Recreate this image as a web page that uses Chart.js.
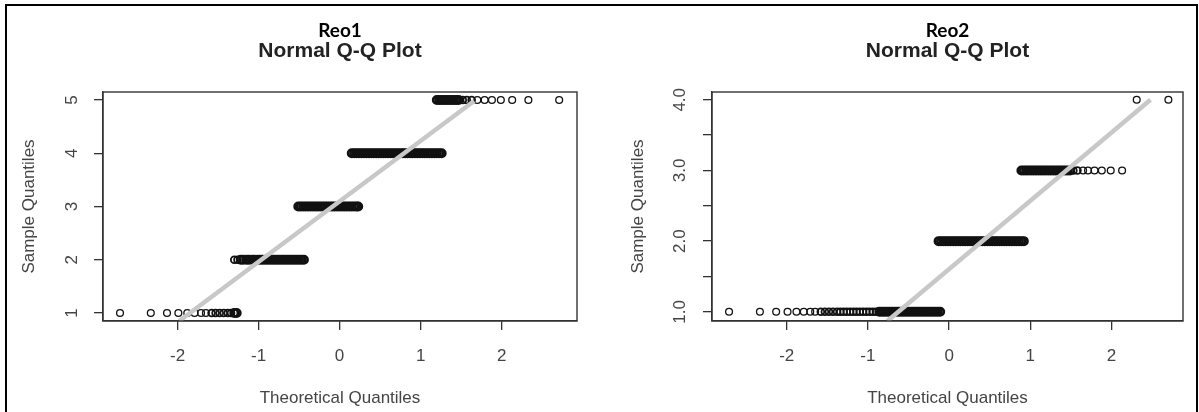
<!DOCTYPE html>
<html lang="en">
<head>
    <meta charset="UTF-8">
    <title>Reo1 / Reo2 - Normal Q-Q Plot</title>
    <script src="https://cdn.jsdelivr.net/npm/chart.js"></script>
    <style>
        body { margin: 0; background: #fff; }
        #frame { position: absolute; left: 5px; top: 4px; width: 1189px; height: 430px;
                 border: 2.5px solid #000; border-bottom: none; pointer-events: none; }
        .panel { position: absolute; top: 0; }
    </style>
</head>
<body>

<div class="panel" style="left:0px"><canvas id="reo1Chart" width="600" height="412"></canvas></div>
<div class="panel" style="left:600px"><canvas id="reo2Chart" width="599" height="412"></canvas></div>
<div id="frame"></div>

<script>
// --- Reo1: theoretical quantile of every point, grouped by its sample value ---
const reo1Levels = [1, 2, 3, 4, 5];
const reo1Ones = [-2.71, -2.33, -2.13, -1.99, -1.88, -1.79, -1.71, -1.65, -1.58, -1.53, -1.48, -1.43, -1.38, -1.34, -1.30, -1.27];
const reo1Twos = [-1.30, -1.26, -1.22, -1.19, -1.15, -1.12, -1.08, -1.05, -1.01, -0.98, -0.95, -0.92, -0.89, -0.86, -0.83, -0.80, -0.77, -0.74, -0.71, -0.68, -0.65, -0.62, -0.59, -0.56, -0.53, -0.50, -0.47, -0.44];
const reo1Threes = [-0.51, -0.48, -0.45, -0.42, -0.39, -0.36, -0.33, -0.30, -0.27, -0.24, -0.21, -0.18, -0.15, -0.12, -0.09, -0.06, -0.03, 0.00, 0.03, 0.06, 0.09, 0.12, 0.15, 0.18, 0.21, 0.23];
const reo1Fours = [0.15, 0.18, 0.21, 0.24, 0.27, 0.30, 0.33, 0.36, 0.39, 0.42, 0.45, 0.48, 0.51, 0.54, 0.57, 0.60, 0.63, 0.66, 0.69, 0.72, 0.75, 0.78, 0.81, 0.84, 0.87, 0.90, 0.93, 0.96, 0.99, 1.02, 1.05, 1.08, 1.11, 1.14, 1.17, 1.20, 1.23, 1.26];
const reo1Fives = [1.20, 1.23, 1.26, 1.29, 1.32, 1.35, 1.38, 1.41, 1.44, 1.47, 1.52, 1.57, 1.63, 1.70, 1.79, 1.88, 1.99, 2.13, 2.33, 2.71];
const reo1LineX = [-1.98, 1.66];
const reo1LineY = [0.85, 4.98];
const reo1XTicks = [-2, -1, 0, 1, 2];
const reo1YTicks = [1, 2, 3, 4, 5];
const reo1YLabels = ['1', '2', '3', '4', '5'];

// --- Reo2 ---
const reo2Levels = [1, 2, 3, 4];
const reo2Ones = [-2.71, -2.33, -2.13, -1.99, -1.88, -1.79, -1.71, -1.65, -1.58, -1.53, -1.48, -1.43, -1.38, -1.34, -1.30, -1.26, -1.22, -1.18, -1.14, -1.10, -1.06, -1.02, -0.98, -0.94, -0.90, -0.86, -0.83, -0.80, -0.77, -0.74, -0.71, -0.68, -0.65, -0.62, -0.59, -0.56, -0.53, -0.50, -0.47, -0.44, -0.41, -0.38, -0.35, -0.32, -0.29, -0.26, -0.23, -0.20, -0.17, -0.14, -0.11];
const reo2Twos = [-0.13, -0.10, -0.07, -0.04, -0.01, 0.02, 0.05, 0.08, 0.11, 0.14, 0.17, 0.20, 0.23, 0.26, 0.29, 0.32, 0.35, 0.38, 0.41, 0.44, 0.47, 0.50, 0.53, 0.56, 0.59, 0.62, 0.65, 0.68, 0.71, 0.74, 0.77, 0.80, 0.83, 0.86, 0.89, 0.92];
const reo2Threes = [0.89, 0.92, 0.95, 0.98, 1.01, 1.04, 1.07, 1.10, 1.13, 1.16, 1.19, 1.22, 1.25, 1.28, 1.31, 1.34, 1.37, 1.40, 1.43, 1.46, 1.49, 1.53, 1.58, 1.65, 1.71, 1.79, 1.88, 1.99, 2.13];
const reo2Fours = [2.31, 2.70];
const reo2LineX = [-0.76, 2.48];
const reo2LineY = [0.87, 4.0];
const reo2XTicks = [-2, -1, 0, 1, 2];
const reo2YTicks = [1, 1.5, 2, 2.5, 3, 3.5, 4];
const reo2YLabels = ['1.0', '', '2.0', '', '3.0', '', '4.0'];

const axisColor = '#333';
const textColor = '#444';
const sans = 'Liberation Sans, Arial, sans-serif';

// box round the plotting region, like R's box()
const plotBox = {
    id: 'plotBox',
    afterDatasetsDraw(chart) {
        const a = chart.chartArea;
        const ctx = chart.ctx;
        ctx.save();
        ctx.strokeStyle = axisColor;
        ctx.lineWidth = 1.4;
        ctx.strokeRect(a.left, a.top, a.right - a.left, a.bottom - a.top);
        ctx.restore();
    }
};

function makeQQ(canvasId, p) {
    const points = [];
    p.levels.forEach((lvl, i) => {
        const xs = p.theoretical[i];
        xs.forEach((x, j) => {
            // distance to the nearest neighbour: overlapping circles are drawn heavier
            const gaps = [];
            if (j > 0) gaps.push(x - xs[j - 1]);
            if (j < xs.length - 1) gaps.push(xs[j + 1] - x);
            points.push({ x: x, y: lvl, gap: Math.min(...gaps) });
        });
    });
    const line = p.lineX.map((x, i) => ({ x: x, y: p.lineY[i] }));
    const weight = c => {
        const g = c.raw ? c.raw.gap : 1;
        return g < 0.036 ? 2.6 : (g < 0.06 ? 1.8 : 1.3);
    };

    return new Chart(document.getElementById(canvasId), {
        type: 'scatter',
        data: {
            datasets: [
                { data: line, showLine: true, borderColor: '#c8c8c8', borderWidth: 4.5, pointRadius: 0 },
                { data: points,
                  pointRadius: c => weight(c) > 2 ? 3.7 : 3.4,
                  borderWidth: weight,
                  borderColor: '#111', backgroundColor: 'rgba(0,0,0,0)' }
            ]
        },
        options: {
            responsive: false,
            animation: false,
            events: [],
            layout: { padding: { top: 21.5, left: 0, right: p.padRight, bottom: 0 } },
            plugins: {
                legend: { display: false },
                tooltip: { enabled: false },
                title: {
                    display: true, text: p.name, fullSize: false, color: '#000',
                    font: { family: 'Lato', weight: 'bold', size: 19, lineHeight: 1 },
                    padding: { top: 0, bottom: 0 }
                },
                subtitle: {
                    display: true, text: 'Normal Q-Q Plot', fullSize: false, color: '#222',
                    font: { family: sans, weight: 'bold', size: 21, lineHeight: 1 },
                    padding: { top: 0, bottom: 30.5 }
                }
            },
            scales: {
                x: {
                    type: 'linear', min: p.xMin, max: p.xMax,
                    afterBuildTicks: s => { s.ticks = p.xTicks.map(v => ({ value: v })); },
                    afterFit: s => { s.height = 91; },
                    grid: { drawOnChartArea: false, drawTicks: true, tickLength: 9, color: axisColor, lineWidth: 1.3 },
                    border: { display: true, color: axisColor, width: 1.3 },
                    ticks: { padding: 16.5, color: textColor, font: { family: sans, size: 17 }, maxRotation: 0,
                             callback: v => String(v) },
                    title: { display: true, text: 'Theoretical Quantiles', color: textColor,
                             font: { family: sans, size: 17 }, padding: { top: 0, bottom: 3.8 } }
                },
                y: {
                    type: 'linear', min: p.yMin, max: p.yMax,
                    afterBuildTicks: s => { s.ticks = p.yTicks.map(v => ({ value: v })); },
                    afterFit: s => { s.width = p.yWidth; },
                    grid: { drawOnChartArea: false, drawTicks: true, tickLength: 9, color: axisColor, lineWidth: 1.3 },
                    border: { display: true, color: axisColor, width: 1.3 },
                    ticks: { padding: p.yTickPad, color: textColor, font: { family: sans, size: 17 },
                             minRotation: 90, maxRotation: 90, crossAlign: 'center',
                             callback: (v, i) => p.yLabels[i] },
                    title: { display: true, text: 'Sample Quantiles', color: textColor,
                             font: { family: sans, size: 17 }, padding: { top: p.yTitlePad, bottom: 0 } }
                }
            }
        },
        plugins: [plotBox]
    });
}

makeQQ('reo1Chart', {
    name: 'Reo1', levels: reo1Levels,
    theoretical: [reo1Ones, reo1Twos, reo1Threes, reo1Fours, reo1Fives],
    lineX: reo1LineX, lineY: reo1LineY,
    xTicks: reo1XTicks, yTicks: reo1YTicks, yLabels: reo1YLabels,
    xMin: -2.92, xMax: 2.93, yMin: 0.85, yMax: 5.15,
    yWidth: 103, padRight: 23, yTickPad: 17.3, yTitlePad: 19.3
});

makeQQ('reo2Chart', {
    name: 'Reo2', levels: reo2Levels,
    theoretical: [reo2Ones, reo2Twos, reo2Threes, reo2Fours],
    lineX: reo2LineX, lineY: reo2LineY,
    xTicks: reo2XTicks, yTicks: reo2YTicks, yLabels: reo2YLabels,
    xMin: -2.92, xMax: 2.88, yMin: 0.87, yMax: 4.11,
    yWidth: 112, padRight: 16, yTickPad: 11.2, yTitlePad: 27.8
});
</script>
</body>
</html>
